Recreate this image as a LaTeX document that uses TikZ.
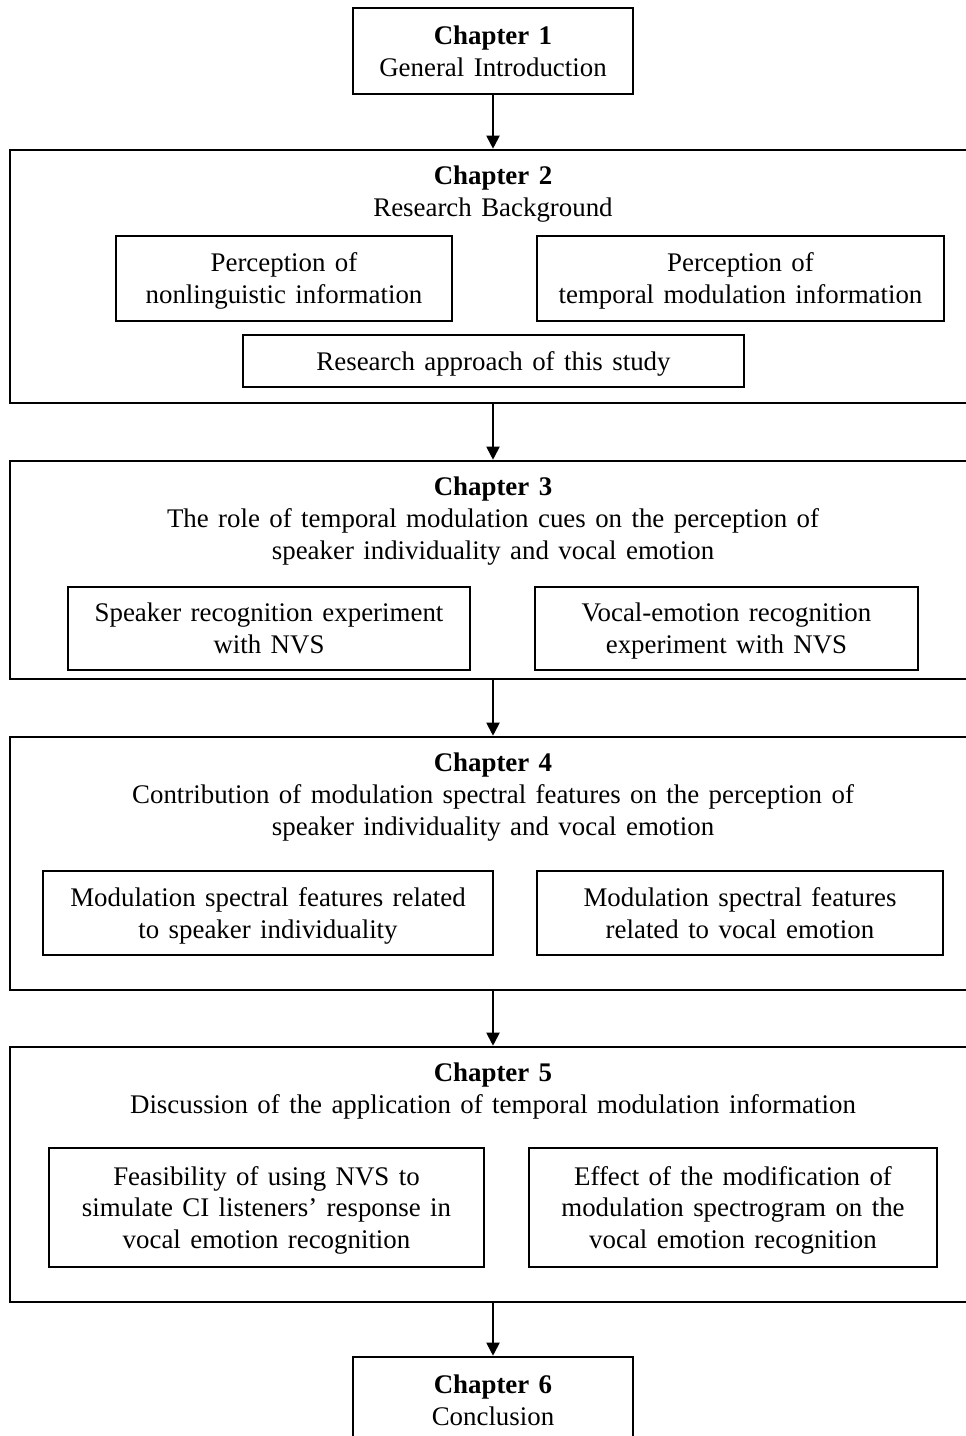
\documentclass[tikz,border=0pt]{standalone}
\usepackage{amsmath}
\usepackage{fontspec}
\setmainfont{Liberation Serif}[WordSpace=1.4]
\usepackage{tikz}
\usetikzlibrary{arrows.meta}

\tikzset{
	chapbox/.style={draw,line width=1.5pt,inner sep=0pt,minimum width=19.32cm},
	smallbox/.style={draw,line width=1.5pt,inner sep=0pt,minimum width=5.6cm,minimum height=1.72cm,align=center,font=\fontsize{15.3}{18.2}\selectfont},
	subbox/.style={draw,line width=1.3pt,inner sep=0pt,align=center,text depth=0pt,font=\fontsize{15.3}{18.2}\selectfont},
	title/.style={align=center,inner sep=0pt,font=\fontsize{15.3}{18.2}\selectfont},
	arr/.style={line width=1.1pt,-{Triangle[length=0.26cm,width=0.26cm]}}
}

\begin{document}
\begin{tikzpicture}[x=0.02cm,y=-0.02cm]
			\useasboundingbox (0,0) rectangle (966,1436);
			\clip (0,0) rectangle (966,1436);
			% chapter 1
			\node[smallbox] (ch1) at (493,51) {\textbf{Chapter 1}\\General Introduction};
			% chapter 2
			\node[chapbox,minimum height=5.06cm] (ch2) at (493,276.5) {};
			\node[title] (t2) at (493,194) {\textbf{Chapter 2}\\Research Background};
			\node[subbox,minimum width=6.72cm,minimum height=1.7cm] (nonling) at (284,278.5) {Perception of\\nonlinguistic information};
			\node[subbox,minimum width=8.14cm,minimum height=1.7cm] (tempmod) at (740.5,278.5) {Perception of\\temporal modulation information};
			\node[subbox,minimum width=10.02cm,minimum height=1.04cm] (approach) at (493.5,361) {Research approach of this study};
			% chapter 3
			\node[chapbox,minimum height=4.36cm] (ch3) at (493,570) {};
			\node[title] (t3) at (493,521) {\textbf{Chapter 3}\\The role of temporal modulation cues on the perception of\\speaker individuality and vocal emotion};
			\node[subbox,minimum width=8.04cm,minimum height=1.66cm] (spkexp) at (269,628.5) {Speaker recognition experiment\\with NVS};
			\node[subbox,minimum width=7.66cm,minimum height=1.66cm] (emoexp) at (726.5,628.5) {Vocal-emotion recognition\\experiment with NVS};
			% chapter 4
			\node[chapbox,minimum height=5.06cm] (ch4) at (493,863.5) {};
			\node[title] (t4) at (493,797) {\textbf{Chapter 4}\\Contribution of modulation spectral features on the perception of\\speaker individuality and vocal emotion};
			\node[subbox,minimum width=9cm,minimum height=1.68cm] (spkfeat) at (268,913) {Modulation spectral features related\\to speaker individuality};
			\node[subbox,minimum width=8.12cm,minimum height=1.68cm] (emofeat) at (740,913) {Modulation spectral features\\related to vocal emotion};
			% chapter 5
			\node[chapbox,minimum height=5.1cm] (ch5) at (493,1174.5) {};
			\node[title] (t5) at (493,1091) {\textbf{Chapter 5}\\Discussion of the application of temporal modulation information};
			\node[subbox,minimum width=8.7cm,minimum height=2.38cm] (feasib) at (266.5,1207.5) {Feasibility of using NVS to\\simulate CI listeners' response in\\vocal emotion recognition};
			\node[subbox,minimum width=8.16cm,minimum height=2.38cm] (modif) at (733,1207.5) {Effect of the modification of\\modulation spectrogram on the\\vocal emotion recognition};
			% chapter 6
			\node[smallbox,minimum height=1.74cm] (ch6) at (493,1400.5) {\textbf{Chapter 6}\\Conclusion};
			% arrows
			\draw[arr] (ch1.south) -- (ch2.north);
			\draw[arr] (ch2.south) -- (ch3.north);
			\draw[arr] (ch3.south) -- (ch4.north);
			\draw[arr] (ch4.south) -- (ch5.north);
			\draw[arr] (ch5.south) -- (ch6.north);
		\end{tikzpicture}
\end{document}
